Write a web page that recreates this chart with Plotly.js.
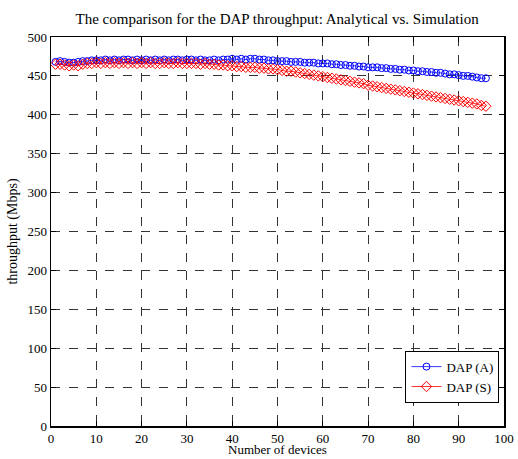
<!DOCTYPE html>
<html><head><meta charset="utf-8">
<script src="https://cdn.plot.ly/plotly-3.0.1.min.js"></script>
<style>body{margin:0;background:#fff}#chart{width:518px;height:459px}</style>
</head><body><div id="chart"></div>
<script>
var devices = [];
for (var i = 1; i <= 96; i++) devices.push(i);
var dapA = [468,469,468,467,467,468,469,469,470,470,
470,471,470,471,470,471,471,470,471,470,
471,470,471,470,471,470,471,471,470,471,
471,470,471,470,470,471,470,471,471,472,
471,472,471,472,472,471,471,470,470,469,
469,469,468,468,468,467,467,467,466,466,
466,465,465,464,464,463,463,462,462,461,
461,461,460,460,459,459,458,458,457,457,
456,456,455,455,454,454,453,452,452,451,
450,450,449,448,447,447];
var dapS = [465,465,464,463,464,463,465,466,466,467,
466,467,466,467,466,467,466,467,466,467,
466,467,466,466,467,466,466,467,466,466,
466,466,465,466,465,465,464,464,463,463,
462,462,461,461,461,460,460,459,459,458,
457,456,456,455,454,453,452,451,450,449,
448,447,446,445,444,443,442,441,440,438,
437,436,435,434,433,432,431,430,429,428,
427,426,425,424,423,422,421,420,419,418,
417,416,415,414,412,411];
var names = ['DAP (A)', 'DAP (S)'];

var FONT = 'Liberation Serif, Times New Roman, Times, serif';

var traces = [
  {x: devices, y: dapA, name: names[0], mode: 'lines+markers', type: 'scatter',
   line: {color: '#0000ff', width: 0.8},
   marker: {symbol: 'circle-open', size: 7, color: '#0000ff', line: {width: 1}}},
  {x: devices, y: dapS, name: names[1], mode: 'lines+markers', type: 'scatter',
   line: {color: '#ff0000', width: 0.8},
   marker: {symbol: 'diamond-open', size: 8, color: '#ff0000', line: {width: 1}}}
];

var axisCommon = {
  showline: true, mirror: 'ticks', linecolor: '#000', linewidth: 1.5,
  ticks: 'inside', ticklen: 5, tickcolor: '#000',
  showgrid: true, gridcolor: '#333', griddash: 'dash', gridwidth: 1,
  zeroline: false,
  tickfont: {family: FONT, size: 13, color: '#000'}
};

var layout = {
  width: 518, height: 459,
  margin: {l: 51, r: 14, t: 37, b: 33},
  paper_bgcolor: '#fff', plot_bgcolor: '#fff',
  font: {family: FONT, color: '#000'},
  title: {text: 'The comparison for the DAP throughput: Analytical vs. Simulation',
          font: {family: FONT, size: 15, color: '#000'},
          x: 0.535, xanchor: 'center', y: 0.96, yanchor: 'middle'},
  xaxis: Object.assign({}, axisCommon, {
    range: [0, 100], dtick: 10, tick0: 0, ticklabelstandoff: 0
  }),
  yaxis: Object.assign({}, axisCommon, {
    range: [0, 500], dtick: 50, tick0: 0,
    title: {text: 'throughput (Mbps)', font: {family: FONT, size: 14, color: '#000'}, standoff: 6}
  }),
  annotations: [{text: 'Number of devices', xref: 'paper', yref: 'paper',
    x: 0.5, y: 0, yshift: -33, xanchor: 'center', yanchor: 'bottom', showarrow: false,
    font: {family: FONT, size: 13, color: '#000'}}],
  showlegend: true,
  legend: {x: 0.99, y: 0.06, xanchor: 'right', yanchor: 'bottom',
    bgcolor: '#fff', bordercolor: '#000', borderwidth: 1,
    font: {family: FONT, size: 13, color: '#000'},
    tracegroupgap: 0, itemwidth: 30}
};

Plotly.newPlot('chart', traces, layout, {displayModeBar: false, staticPlot: true});
</script></body></html>
